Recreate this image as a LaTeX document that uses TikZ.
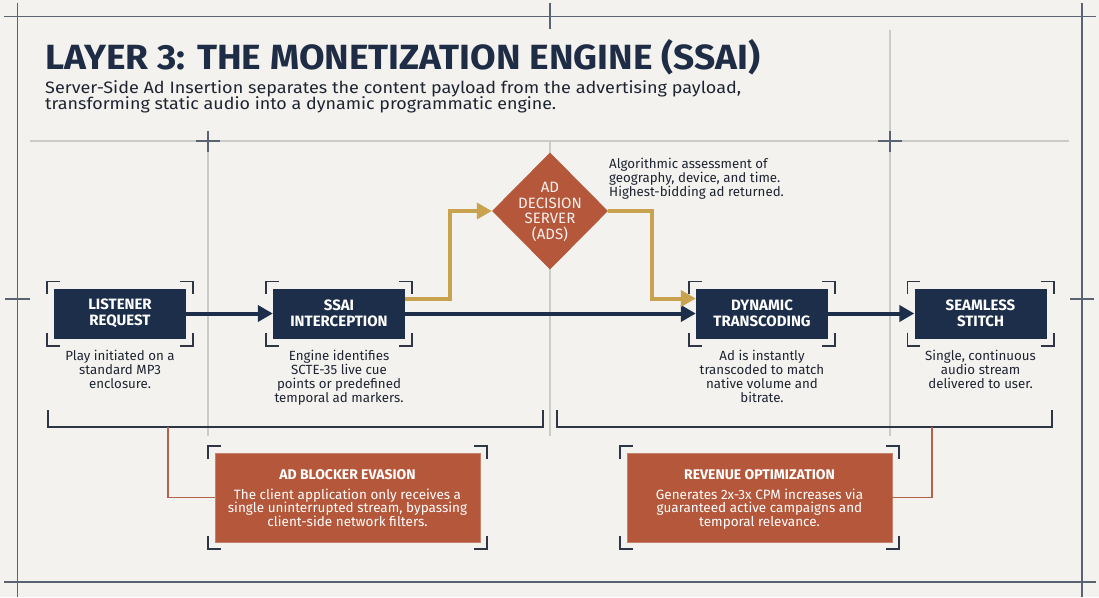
\documentclass[tikz,border=0pt]{standalone}
\usepackage{fontspec}
\usepackage{graphicx}
\setmainfont{Fira Sans}
\newcommand\labfont{\bfseries}
\usetikzlibrary{arrows.meta,shapes.geometric}
\definecolor{bgc}{HTML}{F3F2EE}
\definecolor{navy}{HTML}{1D2E4A}
\definecolor{rust}{HTML}{B4573A}
\definecolor{gold}{HTML}{C9A24F}
\definecolor{framec}{HTML}{5A6372}
\definecolor{lightc}{HTML}{CBCBC7}
\definecolor{txt}{HTML}{1E2432}
\definecolor{rustline}{HTML}{B0634A}
\definecolor{brkc}{HTML}{2E3545}
\definecolor{titlec}{HTML}{1E2D45}
\newcommand\cornerbrk[2]{%
  \draw[brk] ([shift={(-#2,-#2+13)}]#1.north west) -- ([shift={(-#2,-#2)}]#1.north west) -- ([shift={(-#2+13,-#2)}]#1.north west);
  \draw[brk] ([shift={(#2-13,-#2)}]#1.north east) -- ([shift={(#2,-#2)}]#1.north east) -- ([shift={(#2,-#2+13)}]#1.north east);
  \draw[brk] ([shift={(-#2,#2-13)}]#1.south west) -- ([shift={(-#2,#2)}]#1.south west) -- ([shift={(-#2+13,#2)}]#1.south west);
  \draw[brk] ([shift={(#2-13,#2)}]#1.south east) -- ([shift={(#2,#2)}]#1.south east) -- ([shift={(#2,#2-13)}]#1.south east);
}
\begin{document}
\begin{tikzpicture}[x=1pt,y=-1pt,
  framel/.style={draw=framec,line width=1.6pt},
  lightl/.style={draw=lightc,line width=1.2pt},
  brk/.style={draw=brkc,line width=1.6pt},
  flowbox/.style={fill=navy,minimum width=132pt,minimum height=50pt,inner sep=0pt,text=white,align=center,font=\labfont\fontsize{15}{16}\selectfont},
  desc/.style={text=txt,align=center,inner sep=0pt,anchor=base,font=\fontsize{13.3}{14}\selectfont},
  navyarrow/.style={draw=navy,line width=4pt,-{Triangle[length=15pt,width=16pt]}},
  goldarrow/.style={draw=gold,line width=4pt,line join=miter,-{Triangle[length=15pt,width=16pt]}},
  rustbox/.style={fill=rust,draw=rust!75!white,line width=0.8pt,minimum width=265pt,minimum height=89pt,inner sep=0pt},
  rusttitle/.style={text=white,inner sep=0pt,anchor=base,font=\labfont\fontsize{14}{16}\selectfont},
  rustbody/.style={text=white,inner sep=0pt,anchor=base,align=center,font=\fontsize{13.5}{13.6}\selectfont},
  rustl/.style={draw=rustline,line width=1.3pt},
  grp/.style={draw=brkc,line width=1.6pt}
]
\useasboundingbox (0,0) rectangle (1099,597);
\fill[bgc] (0,0) rectangle (1099,597);
% light guide lines
\draw[lightl] (30,141) -- (1069,141);
\draw[lightl] (208,141) -- (208,436);
\draw[lightl] (550,141) -- (550,436);
\draw[lightl] (890,30) -- (890,436);
% frame
\draw[framel] (4,16.5) -- (1096,16.5);
\draw[framel] (4,582) -- (1096,582);
\draw[framel] (17.5,3) -- (17.5,597);
\draw[framel] (1082,3) -- (1082,597);
\draw[framel] (550,3) -- (550,29);
\draw[framel] (5,299) -- (30,299);
\draw[framel] (1070,299) -- (1094,299);
\draw[framel] (196,141) -- (220,141);
\draw[framel] (208,131) -- (208,152);
\draw[framel] (878,141) -- (902,141);
\draw[framel] (890,131) -- (890,152);
% title
\node[anchor=base west,inner sep=0pt,text=titlec] (title) at (45,69.5) {\resizebox{715pt}{\height}{\fontsize{35}{40}\selectfont\bfseries LAYER 3: THE MONETIZATION ENGINE (SSAI)}};
\node[anchor=base west,inner sep=0pt,text=txt] (sub1) at (45,93) {\resizebox{696pt}{\height}{\fontsize{16.5}{20}\selectfont Server-Side Ad Insertion separates the content payload from the advertising payload,}};
\node[anchor=base west,inner sep=0pt,text=txt] (sub2) at (45,109) {\resizebox{511pt}{\height}{\fontsize{16.5}{20}\selectfont transforming static audio into a dynamic programmatic engine.}};
% flow boxes
\node[flowbox] (b1) at (120,313.5) {LISTENER\\REQUEST};
\node[flowbox] (b2) at (339,313.5) {SSAI\\INTERCEPTION};
\node[flowbox] (b3) at (762,313.5) {DYNAMIC\\TRANSCODING};
\node[flowbox] (b4) at (980.5,313.5) {SEAMLESS\\STITCH};
\cornerbrk{b1}{7}
\cornerbrk{b2}{7}
\cornerbrk{b3}{7}
\cornerbrk{b4}{7}
% descriptions (base anchor = last line baseline)
\node[desc] (d1) at (120,388) {Play initiated on a\\standard MP3\\enclosure.};
\node[desc] (d2) at (339,402) {Engine identifies\\SCTE-35 live cue\\points or predefined\\temporal ad markers.};
\node[desc] (d3) at (762,402) {Ad is instantly\\transcoded to match\\native volume and\\bitrate.};
\node[desc] (d4) at (980.5,388) {Single, continuous\\audio stream\\delivered to user.};
% diamond
\node[diamond,fill=rust,minimum width=116pt,minimum height=117pt,inner sep=0pt,aspect=1] (ads) at (550,211) {};
\node[text=white!92!rust,align=center,inner sep=0pt,font=\fontsize{15}{15.8}\selectfont] (adstext) at ([yshift=-1pt]ads.center) {AD\\DECISION\\SERVER\\(ADS)};
\node[anchor=base west,align=left,inner sep=0pt,text=txt,font=\fontsize{13.3}{14}\selectfont] (adsnote) at (609,196) {Algorithmic assessment of\\geography, device, and time.\\Highest-bidding ad returned.};
% arrows
\draw[navyarrow] (b1.east) -- (b2.west);
\draw[navyarrow] (b2.east) -- (b3.west);
\draw[navyarrow] (b3.east) -- (b4.west);
\draw[goldarrow] ([yshift=15pt]b2.east) -| ([xshift=-42pt]ads.west) -- (ads.west);
\draw[goldarrow] (ads.east) -| ([xshift=-44pt,yshift=15pt]b3.west) -- ([yshift=15pt]b3.west);
% group brackets
\draw[grp] (48,410) -- (48,427) -- (543,427) -- (543,410);
\draw[grp] (557,410) -- (557,427) -- (1052,427) -- (1052,410);
\coordinate (gl) at (168,427);
\coordinate (gr) at (932,427);
% rust boxes
\node[rustbox] (ab) at (347.5,497.5) {};
\node[rustbox] (ro) at (759.5,497.5) {};
\cornerbrk{ab}{6.5}
\cornerbrk{ro}{6.5}
\draw[rustl] (gl) |- (ab.west);
\draw[rustl] (gr) |- (ro.east);
\node[rusttitle] (abt) at (347.5,479) {AD BLOCKER EVASION};
\node[rustbody] (abb) at (347.5,526.2) {The client application only receives a\\single uninterrupted stream, bypassing\\client-side network filters.};
\node[rusttitle] (rot) at (759.5,479) {REVENUE OPTIMIZATION};
\node[rustbody] (rob) at (759.5,526.2) {Generates 2x-3x CPM increases via\\guaranteed active campaigns and\\temporal relevance.};
\end{tikzpicture}
\end{document}
